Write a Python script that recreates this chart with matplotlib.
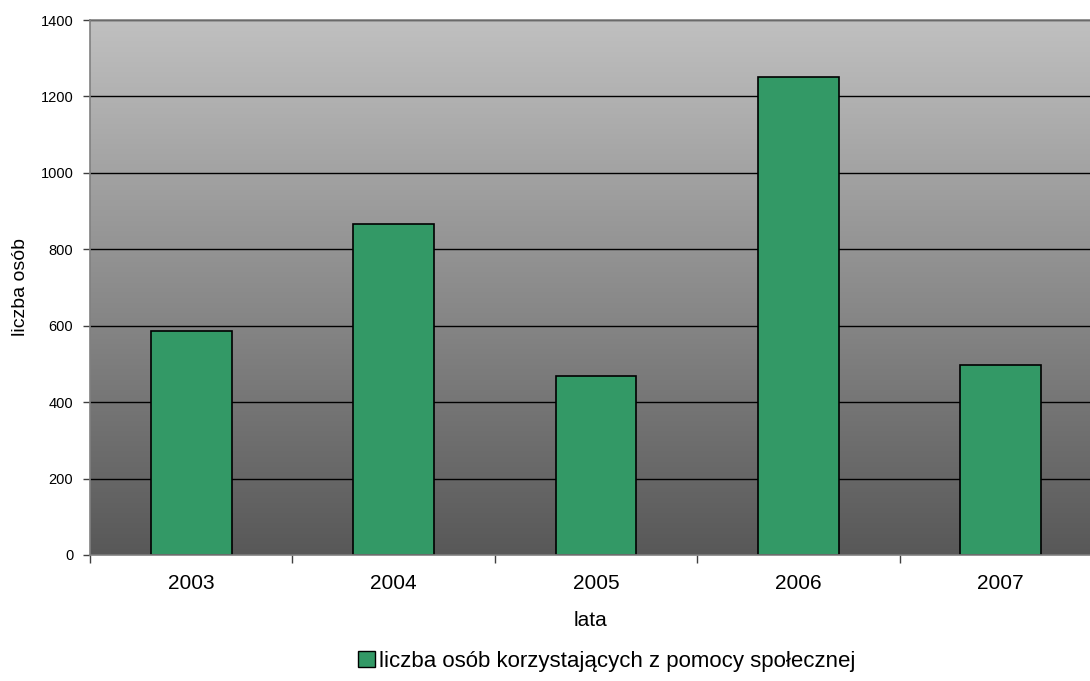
import numpy as np
import matplotlib
matplotlib.use("Agg")
import matplotlib.pyplot as plt
from matplotlib.patches import Patch

# data
years = ["2003", "2004", "2005", "2006", "2007"]
persons = [586, 867, 468, 1252, 498]
yticks = [0, 200, 400, 600, 800, 1000, 1200, 1400]
series_name = "liczba osób korzystających z pomocy społecznej"

plt.rcParams["font.family"] = ["Liberation Sans", "DejaVu Sans"]

fig = plt.figure(figsize=(10.9, 6.81), dpi=100)
ax = fig.add_axes([90 / 1090, 126 / 681, 1012 / 1090, 535 / 681])

# grey gradient background (light at the top, dark at the bottom)
grad = np.linspace(0, 1, 256).reshape(-1, 1)
bg = matplotlib.colors.LinearSegmentedColormap.from_list("bg", ["#585858", "#c0c0c0"])
ax.imshow(grad, cmap=bg, aspect="auto", origin="lower",
          extent=[-0.5, 4.5, 0, 1400], zorder=0)

x = np.arange(len(years))
ax.bar(x, persons, width=0.4, color="#339966", edgecolor="black",
       linewidth=1.2, zorder=3)

ax.set_xlim(-0.5, 4.5)
ax.set_ylim(0, 1400)
ax.set_yticks(yticks)
ax.set_yticklabels([str(v) for v in yticks], fontsize=10.5)
ax.yaxis.grid(True, color="black", linewidth=1.0)

# category labels centred, ticks between categories
ax.set_xticks(x)
ax.set_xticklabels(years, fontsize=15)
ax.set_xticks(np.arange(-0.5, 4.6, 1), minor=True)
ax.tick_params(axis="x", which="major", length=0, pad=14)
ax.tick_params(axis="x", which="minor", length=6, width=1, color="#404040")
ax.tick_params(axis="y", length=5, width=1, color="#404040", pad=7)

for side in ["left", "bottom", "top"]:
    ax.spines[side].set_color("#808080")
    ax.spines[side].set_linewidth(1.2)
    ax.spines[side].set_zorder(4)
ax.spines["right"].set_visible(False)

ax.set_xlabel("lata", fontsize=15, labelpad=16)
ax.xaxis.set_label_coords(500 / 1012, -0.105)
ax.set_ylabel("liczba osób", fontsize=14, labelpad=8)

handle = Patch(facecolor="#339966", edgecolor="black", linewidth=1.0)
fig.legend([handle], [series_name], loc="center", bbox_to_anchor=(0.557, 0.029),
           frameon=False, fontsize=16, handlelength=0.75, handleheight=0.75,
           handletextpad=0.2)

fig.savefig("out.png", dpi=100)
